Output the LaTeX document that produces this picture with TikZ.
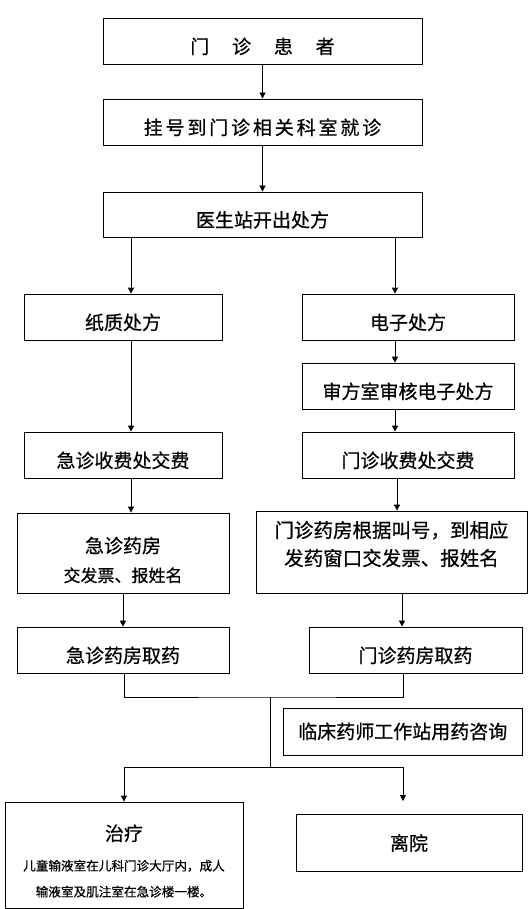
\documentclass[tikz,border=0pt]{standalone}
\usepackage{fontspec}
\setmainfont{Noto Sans CJK SC}[FakeBold=0.6]
\usetikzlibrary{arrows.meta}
\begin{document}
\begin{tikzpicture}[x=1pt,y=-1pt,
    box/.style={draw,line width=0.8pt,inner sep=0pt,align=center,
      font=\fontsize{19}{23}\selectfont},
    low/.style={text height=27.5pt,text depth=2.3pt},
    note/.style={inner sep=0pt,align=center},
    arr/.style={line width=0.8pt,-{Triangle[length=6pt,width=6pt]}},
    link/.style={line width=0.8pt}]
    \useasboundingbox (0,0) rectangle (531,909);
    % main column
    \node[box,low,minimum width=319pt,minimum height=46pt] (patient) at (262.5,41)
    {门\hspace{1.2em}诊\hspace{1.2em}患\hspace{1.2em}者};
    \node[box,low,minimum width=319pt,minimum height=46pt] (register) at (262.5,122)
    {\addfontfeature{LetterSpace=15}挂号到门诊相关科室就诊};
    \node[box,low,minimum width=319pt,minimum height=45pt] (doctor) at (262.5,214.5)
    {医生站开出处方};
    \coordinate (lx) at (131,0);
    \coordinate (rx) at (395,0);
    % paper prescription
    \node[box,low,minimum width=198pt,minimum height=46pt] (paper) at (123,317) {纸质处方};
    \node[box,low,minimum width=198pt,minimum height=46pt] (jzfee) at (123,455) {急诊收费处交费};
    \node[box,minimum width=212pt,minimum height=80pt] (jzpharm) at (123,553) {};
    \node[note,font=\fontsize{19}{23}\selectfont] (jzpharmtext) at (123,560)
    {急诊药房\\[6pt]\fontsize{17}{20}\selectfont 交发票、报姓名};
    \node[box,low,minimum width=212pt,minimum height=46pt] (jztake) at (123,650) {急诊药房取药};
    % electronic prescription
    \node[box,low,minimum width=212pt,minimum height=46pt] (elec) at (408,317) {电子处方};
    \node[box,low,minimum width=212pt,minimum height=46pt] (review) at (408,386) {审方室审核电子处方};
    \node[box,low,minimum width=212pt,minimum height=46pt] (mzfee) at (408,455) {门诊收费处交费};
    \node[box,minimum width=271pt,minimum height=82pt] (mzpharm) at (391.5,552) {};
    \node[note,font=\fontsize{19.5}{28}\selectfont] (mzpharmtext) at (391.5,544)
    {门诊药房根据叫号，到相应\\发药窗口交发票、报姓名};
    \node[box,low,minimum width=213pt,minimum height=46pt] (mztake) at (415.5,650) {门诊药房取药};
    % end
    \node[box,minimum width=238.5pt,minimum height=47pt] (clinical) at (402.75,731.5)
    {临床药师工作站用药咨询};
    \node[box,minimum width=238pt,minimum height=106pt] (treat) at (124,855) {};
    \node[note,font=\fontsize{19}{23}\selectfont] (treattext) at (124,861)
    {治疗\\[7pt]\fontsize{12.6}{22}\selectfont 儿童输液室在儿科门诊大厅内，成人\\[3pt]
      \fontsize{12.6}{22}\selectfont 输液室及肌注室在急诊楼一楼。};
    \node[box,minimum width=226pt,minimum height=57pt] (leave) at (409,843) {离院};
    \coordinate (join) at (270,697);
    \coordinate (fork) at (270,767);
    \coordinate (leavetop) at (403,801);
    % connectors
    \draw[arr] (patient) -- (register);
    \draw[arr] (register) -- (doctor);
    \draw[arr] (doctor.south -| lx) -- (paper.north -| lx);
    \draw[arr] (doctor.south -| rx) -- (elec.north -| rx);
    \draw[arr] (paper.south -| lx) -- (jzfee.north -| lx);
    \draw[arr] (jzfee.south -| lx) -- (jzpharm.north -| lx);
    \draw[arr] ([xshift=-8pt]jzpharm.south -| lx) -- ([xshift=-8pt]jztake.north -| lx);
    \draw[arr] (elec.south -| rx) -- (review.north -| rx);
    \draw[arr] (review.south -| rx) -- (mzfee.north -| rx);
    \draw[arr] ([xshift=2pt]mzfee.south -| rx) -- ([xshift=2pt]mzpharm.north -| rx);
    \draw[arr] ([xshift=7pt]mzpharm.south -| rx) -- ([xshift=7pt]mztake.north -| rx);
    \draw[link] (jztake.south -| treat) |- (join) -| (mztake.south -| leavetop);
    \draw[link] (join) -- (fork);
    \draw[arr] (fork) -| (treat.north);
    \draw[arr] (fork) -| (leavetop);
\end{tikzpicture}
\end{document}
